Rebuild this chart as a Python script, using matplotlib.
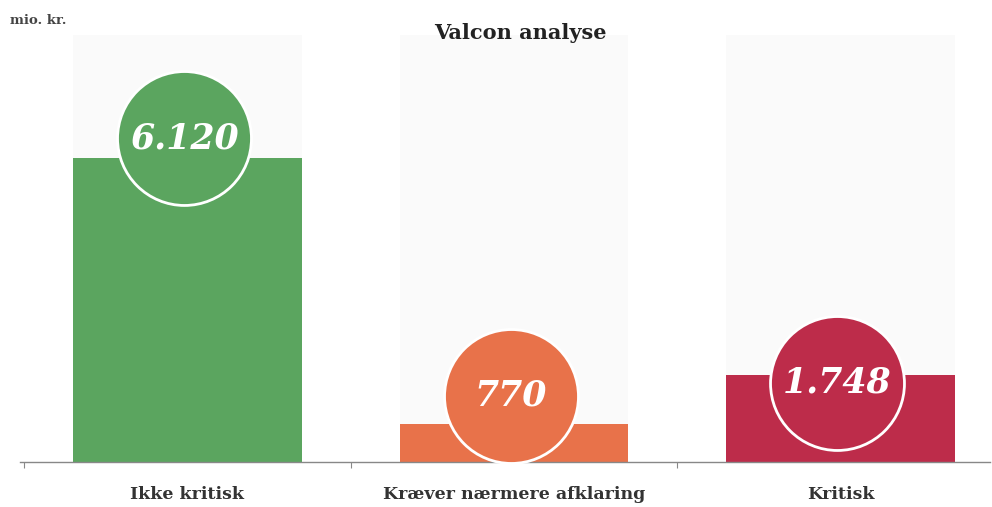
import matplotlib.pyplot as plt

# Data (mio. kr.)
categories = ["Ikke kritisk", "Kræver nærmere afklaring", "Kritisk"]
values = [6120, 770, 1748]
value_labels = ["6.120", "770", "1.748"]
colors = ["#5ba55f", "#e8724a", "#bd2c4a"]

# offset of the value circles from the bar tops (data units)
circle_offset = [400, 560, -150]

fig = plt.figure(figsize=(9.92, 5.07), dpi=100)
ax = fig.add_axes([20 / 992, 45 / 507, 970 / 992, 427 / 507])

x = list(range(len(categories)))
ymax = 8600

# faint column behind each bar
ax.bar(x, [ymax] * len(x), width=0.70, color="#fafafa", zorder=0)
ax.bar(x, values, width=0.70, color=colors, zorder=2)

# value circles
for i in x:
    cy = values[i] + circle_offset[i]
    ax.scatter(i - 0.01, cy, s=9300, color=colors[i], edgecolor="white",
               linewidth=2, zorder=3, clip_on=False)
    ax.text(i - 0.01, cy, value_labels[i], ha="center", va="center",
            color="white", fontsize=25, fontweight="bold", style="italic",
            family="DejaVu Serif", zorder=4)

for s in ["top", "right", "left"]:
    ax.spines[s].set_visible(False)
ax.spines["bottom"].set_color("#888888")
ax.spines["bottom"].set_linewidth(1)
ax.set_yticks([])
ax.set_xticks([-0.5, 0.5, 1.5])
ax.set_xticklabels([])
ax.tick_params(axis="x", direction="out", length=4, color="#888888")

# limits after the ticks, so the ticks don't widen the view
ax.set_xlim(-0.513, 2.458)
ax.set_ylim(0, ymax)

for i, c in enumerate(categories):
    ax.text(i, -480, c, ha="center", va="top", fontsize=12.5, fontweight="bold",
            family="DejaVu Serif", color="#333333")

fig.text(520 / 992, 1 - 33 / 507, "Valcon analyse", ha="center", va="center",
         fontsize=15, fontweight="bold", family="DejaVu Serif", color="#222222")
fig.text(10 / 992, 1 - 21 / 507, "mio. kr.", ha="left", va="center",
         fontsize=9.5, fontweight="bold", family="DejaVu Serif", color="#444444")

fig.savefig("out.png", dpi=100)
